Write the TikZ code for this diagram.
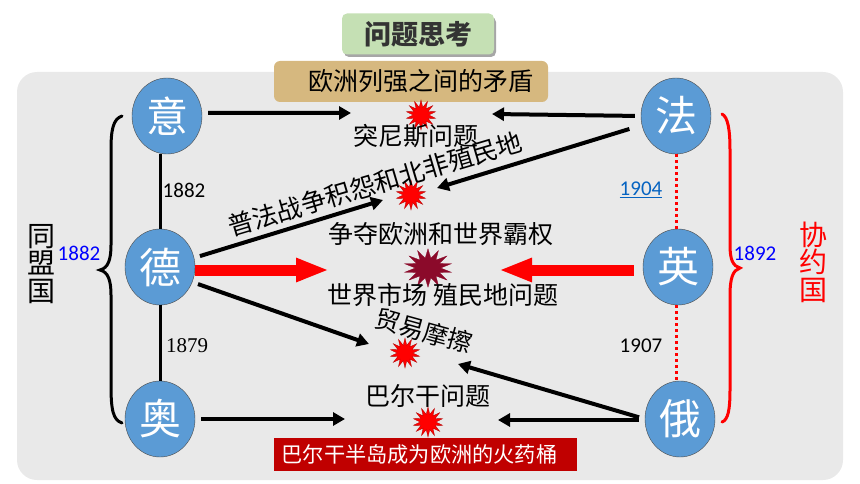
\documentclass[tikz,border=0pt]{standalone}
\usepackage{fontspec}
\setmainfont{Noto Sans CJK SC}
\newfontfamily\numfont{Carlito}
\newfontfamily\serfont{Liberation Serif}
\usetikzlibrary{positioning}
\usetikzlibrary{shapes.geometric, arrows.meta}
\definecolor{mybg}{HTML}{E9E9E9}
\definecolor{myblu}{HTML}{5B9BD5}
\definecolor{mygre}{HTML}{C5E0B4}
\definecolor{mytan}{HTML}{D6B87F}
\definecolor{myred}{HTML}{C00000}
\definecolor{mydrk}{HTML}{8B0A2A}
\definecolor{mylnk}{HTML}{0563C1}
\newcommand{\zh}[1]{\fontsize{#1}{#1}\selectfont}
\tikzstyle{guo} = [ellipse, minimum width=70pt, minimum height=76pt, inner sep=0pt, draw=black!70, fill=myblu, text=white, font=\zh{42}]
\tikzstyle{burst} = [star, star points=14, star point ratio=1.9, minimum size=30pt, inner sep=0pt, draw=red!70!black, line width=0.3pt, fill=red]
\tikzstyle{wenti} = [font=\zh{25}, inner sep=0pt]
\tikzstyle{nian} = [font=\numfont\zh{21}, inner sep=0pt]
\tikzstyle{inout} = [line width=4pt,-{Triangle[length=12pt,width=13pt]},shorten <=6pt]
\tikzstyle{flow} = [line width=11pt,red,-{Triangle[length=33pt,width=22pt]}]
\tikzstyle{meng} = [line width=3pt,black]
\tikzstyle{xie} = [line width=3pt,red,dash pattern=on 3pt off 3pt]
\tikzstyle{brace} = [line width=3pt,line cap=round]
\begin{document}
\begin{tikzpicture}[x=1pt,y=-1pt,align=center]
	\useasboundingbox (0,0) rectangle (860,484);
	\fill[mybg,rounded corners=20pt] (17,72) rectangle (843,480);
	% title boxes
	\fill[black!35,rounded corners=5pt] (344,17) rectangle (496,57);
	\node (title) [rectangle, rounded corners=5pt, minimum width=152pt, minimum height=41pt, fill=mygre, text=black!80, font=\zh{27}\bfseries] at (418,34) {问题思考};
	\node (topbox) [rectangle, rounded corners=6pt, minimum width=274pt, minimum height=41pt, fill=mytan, font=\zh{25}, text=black] at (411,81.5) {\hspace{20pt}欧洲列强之间的矛盾};
	\node (botbox) [rectangle, minimum width=303pt, minimum height=33pt, inner sep=0pt, fill=myred, text=white, font=\zh{21.2}] at (425.5,454.5) {巴尔干半岛成为欧洲的火药桶\hspace{12pt}};
	% countries
	\node (yi) [guo] at (167,116) {意};
	\node (de) [guo] at (160,267) {德};
	\node (ao) [guo] at (160,419) {奥};
	\node (fa) [guo] at (676,116) {法};
	\node (ying) [guo] at (678,267) {英};
	\node (e) [guo] at (680,419) {俄};
	% bursts
	\node (b1) [burst] at (421,115) {};
	\node (b2) [burst] at (411,195) {};
	\node (b3) [burst, fill=mydrk, draw=mydrk, minimum size=48pt, yscale=.8, transform shape] at (428,268) {};
	\node (b4) [burst] at (405,353) {};
	\node (b5) [burst] at (428,422) {};
	% problems
	\node (tunis) [wenti] at (416,136) {突尼斯问题};
	\node (puf) [wenti, rotate=16.5, font=\zh{25.5}] at (375,184) {普法战争积怨和北非殖民地};
	\node (zheng) [wenti] at (441,234) {争夺欧洲和世界霸权};
	\node (shichang) [wenti] at (443,295) {世界市场 殖民地问题};
	\node (maoyi) [wenti, rotate=-15.5] at (424,331) {贸易摩擦};
	\node (balkan) [wenti] at (428,396) {巴尔干问题};
	% sides
	\node (tong) [font=\zh{28}, inner sep=0pt, text width=30pt] at (42,264) {同\\[-0.02em]盟\\[-0.02em]国};
	\node (xieyue) [font=\zh{28}, inner sep=0pt, text width=30pt, text=red] at (813,262) {协\\[-0.02em]约\\[-0.02em]国};
	\node (n1) [nian, text=blue] at (79,253) {1882};
	\node (n2) [nian, text=blue] at (755,253) {1892};
	\node (n3) [nian] at (184,190) {1882};
	\node (n4) [nian, text=mylnk] at (641,190) {\underline{1904}};
	\node (n5) [font=\serfont\zh{21}, inner sep=0pt] at (187,346) {1879};
	\node (n6) [nian] at (641,346) {1907};
	% free ends
	\coordinate (t1) at (351,113);
	\coordinate (t2) at (492,114);
	\coordinate (t3) at (383,200);
	\coordinate (t4) at (437,188);
	\coordinate (t5) at (329,270);
	\coordinate (t6) at (499,270);
	\coordinate (t7) at (369,344);
	\coordinate (t8) at (458,364);
	\coordinate (t9) at (345,419);
	\coordinate (t10) at (498,420);
	% links
	\draw [meng] (de |- yi.south) -- (de.north);
	\draw [meng] (de.south) -- (ao.north);
	\draw [xie] (fa.south) -- (fa.south |- ying.north);
	\draw [xie] (fa.south |- ying.south) -- (fa.south |- e.north);
	\draw [inout] (yi.5) -- (t1);
	\draw [inout] (fa.west) -- (t2);
	\draw [inout] (de.15) -- (t3);
	\draw [inout,shorten <=13pt] (fa.195) -- (t4);
	\draw [flow] (de.east |- t5) -- (t5);
	\draw [flow,shorten <=9pt] (ying.west |- t6) -- (t6);
	\draw [inout] (de.-25) -- (t7);
	\draw [inout] (e.west) -- (t8);
	\draw [inout] (e.west |- t10) -- (t10);
	\draw [inout] (ao.east) -- (t9);
	% braces
	\draw [brace] (122,116) .. controls (113,119) and (111,130) .. (111,150) -- (111,245) .. controls (111,260) and (108,268) .. (100,270) .. controls (108,272) and (111,280) .. (111,295) -- (111,385) .. controls (111,410) and (113,420) .. (122,423);
	\draw [brace, red] (722,114) .. controls (728,117) and (730,130) .. (730,150) -- (730,245) .. controls (730,260) and (733,266) .. (740,268) .. controls (733,270) and (730,278) .. (730,295) -- (730,390) .. controls (730,410) and (728,420) .. (722,422);
\end{tikzpicture}
\end{document}
